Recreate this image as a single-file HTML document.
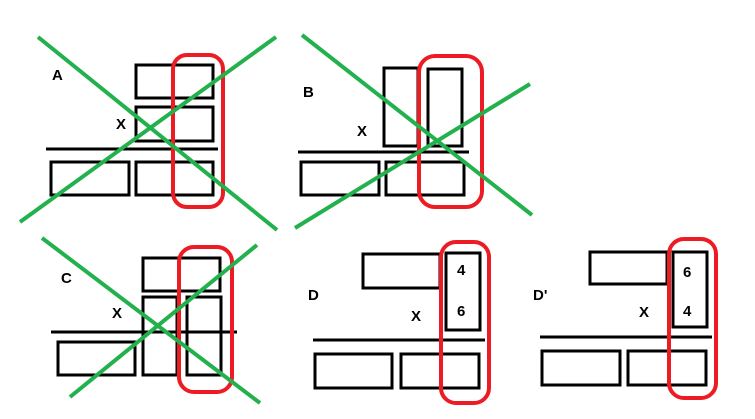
<!DOCTYPE html>
<html><head><style>body{margin:0;background:#fff}svg{display:block}text{font-family:"Liberation Sans",sans-serif;font-weight:bold;font-size:15px;fill:#000}</style></head><body>
<svg width="755" height="419" xmlns="http://www.w3.org/2000/svg">
<g fill="none" stroke="#000" stroke-width="3">
<!-- A -->
<rect x="136" y="65" width="77" height="33"/><rect x="136" y="107" width="77" height="34"/>
<line x1="46" y1="149" x2="218" y2="149"/>
<rect x="51" y="162" width="78" height="33"/><rect x="136" y="162" width="77" height="33"/>
<!-- B -->
<rect x="384" y="68" width="34" height="78"/><rect x="428" y="69" width="34" height="77"/>
<line x1="298" y1="152" x2="469" y2="152"/>
<rect x="301" y="162" width="78" height="33"/><rect x="386" y="162" width="78" height="33"/>
<!-- C -->
<rect x="143" y="258" width="77" height="33"/><rect x="143" y="297" width="34" height="78"/><rect x="187" y="297" width="34" height="78"/>
<line x1="51" y1="332" x2="237" y2="332"/>
<rect x="58" y="342" width="77" height="33"/>
<!-- D -->
<rect x="363" y="254" width="77" height="34"/><rect x="446" y="253" width="34" height="77"/>
<line x1="313" y1="340" x2="485" y2="340"/>
<rect x="315" y="354" width="77" height="34"/><rect x="401" y="354" width="78" height="34"/>
<!-- D' -->
<rect x="590" y="252" width="77" height="32"/><rect x="673" y="252" width="34" height="75"/>
<line x1="540" y1="337" x2="712" y2="337"/>
<rect x="542" y="351" width="78" height="34"/><rect x="628" y="351" width="78" height="34"/>
</g>
<g fill="none" stroke="#ed1c24" stroke-width="4">
<rect x="173" y="55" width="50" height="152" rx="14"/>
<rect x="419" y="56" width="63" height="151" rx="16"/>
<rect x="179" y="247" width="53" height="145" rx="15"/>
<rect x="441" y="242" width="48" height="161" rx="15"/>
<rect x="669" y="239" width="47" height="159" rx="15"/>
</g>
<g stroke="#22b14c" stroke-width="4">
<line x1="38" y1="37" x2="277" y2="230"/><line x1="20" y1="222" x2="276" y2="37"/>
<line x1="302" y1="35" x2="532" y2="215"/><line x1="295" y1="228" x2="530" y2="84"/>
<line x1="42" y1="238" x2="260" y2="403"/><line x1="70" y1="397" x2="257" y2="245"/>
</g>
<text x="52" y="80">A</text><text x="116" y="129">X</text>
<text x="303" y="97">B</text><text x="357" y="136">X</text>
<text x="61" y="283">C</text><text x="112" y="318">X</text>
<text x="308" y="300">D</text><text x="411" y="321">X</text>
<text x="457" y="275">4</text><text x="457" y="316">6</text>
<text x="533" y="300">D'</text><text x="639" y="317">X</text>
<text x="683" y="277">6</text><text x="683" y="316">4</text>
</svg>
</body></html>
